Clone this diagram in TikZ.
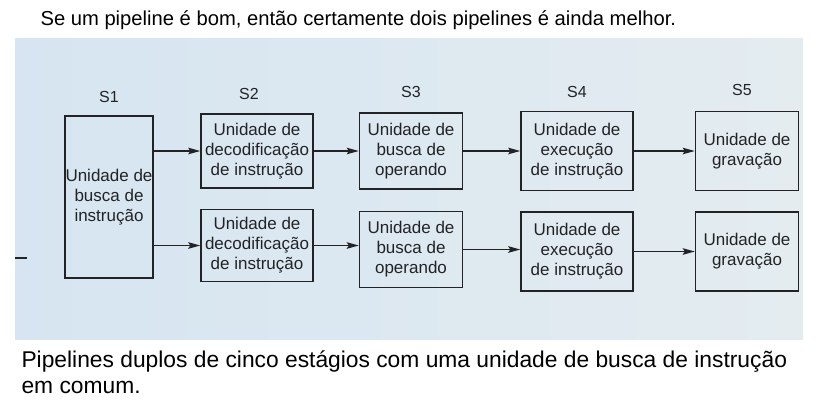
\documentclass[tikz,border=0pt]{standalone}
\usepackage{fontspec}
\setmainfont{Liberation Sans}
\usetikzlibrary{arrows.meta}
\usetikzlibrary{positioning}

\definecolor{photoleft}{RGB}{214,229,241}
\definecolor{photoright}{RGB}{228,236,240}
\definecolor{ink}{RGB}{35,35,38}

\tikzset{
  unit/.style={draw=ink, line width=1.5pt, align=center, inner sep=0pt,
    font=\fontsize{17}{20}\selectfont, text=ink},
  stage/.style={font=\fontsize{16}{18}\selectfont, text=ink},
  flow/.style={draw=ink, line width=1.4pt, -{Stealth[length=12pt,width=6.5pt,inset=2pt]}},
}

\begin{document}
\begin{tikzpicture}[x=1pt, y=-1pt]
    \useasboundingbox (0,0) rectangle (816,408);
    \fill[left color=photoleft, right color=photoright] (15,38) rectangle (803,339);

    \node[anchor=base west, font=\fontsize{20.2}{24}\selectfont] (title) at (37,25)
      {Se um pipeline é bom, então certamente dois pipelines é ainda melhor.};

    \node[unit, minimum width=88pt, minimum height=162pt] (s1) at (109,197)
      {Unidade de\\busca de\\instrução};

    % upper pipeline
    \node[unit, minimum width=112pt, minimum height=74pt] (s2a) at (257,151)
      {Unidade de\\decodificação\\de instrução};
    \node[unit, minimum width=103pt, minimum height=76pt, right=45pt of s2a] (s3a)
      {Unidade de\\busca de\\operando};
    \node[unit, minimum width=112pt, minimum height=79pt, right=57pt of s3a] (s4a)
      {Unidade de\\execução\\de instrução};
    \node[unit, minimum width=103pt, minimum height=79pt, right=61pt of s4a] (s5a)
      {Unidade de\\gravação};

    % lower pipeline
    \node[unit, minimum width=112pt, minimum height=72pt, below=20pt of s2a] (s2b)
      {Unidade de\\decodificação\\de instrução};
    \node[unit, minimum width=103pt, minimum height=76pt, below=21pt of s3a] (s3b)
      {Unidade de\\busca de\\operando};
    \node[unit, minimum width=112pt, minimum height=79pt, below=20pt of s4a] (s4b)
      {Unidade de\\execução\\de instrução};
    \node[unit, minimum width=103pt, minimum height=79pt, below=20pt of s5a] (s5b)
      {Unidade de\\gravação};

    \node[stage, above=9pt of s1] (lab1) {S1};
    \node[stage, above=10pt of s2a, xshift=-8pt] (lab2) {S2};
    \node[stage, above=11pt of s3a] (lab3) {S3};
    \node[stage, above=10pt of s4a] (lab4) {S4};
    \node[stage, above=12pt of s5a, xshift=-5pt] (lab5) {S5};

    \draw[flow] (s1.east |- s2a) -- (s2a);
    \draw[flow] (s1.east |- s2b) -- (s2b);
    \draw[flow] (s2a) -- (s3a);
    \draw[flow] (s3a) -- (s4a);
    \draw[flow] (s4a.east) -- (s4a.east -| s5a.west);
    \draw[flow] (s2b.east) -- (s2b.east -| s3b.west);
    \draw[flow] (s3b.east) -- (s3b.east -| s4b.west);
    \draw[flow] (s4b.east) -- (s4b.east -| s5b.west);

    \coordinate (tick a) at (15,258);
    \coordinate (tick b) at (27,258);
    \draw[ink, line width=1.5pt] (tick a) -- (tick b);

    \node[anchor=base west, font=\fontsize{22.8}{26}\selectfont] (caption) at (18,367)
      {Pipelines duplos de cinco estágios com uma unidade de busca de instrução};
    \node[anchor=base west, font=\fontsize{22.8}{26}\selectfont] (caption end)
      at ([yshift=-26pt]caption.base west) {em comum.};
\end{tikzpicture}
\end{document}
